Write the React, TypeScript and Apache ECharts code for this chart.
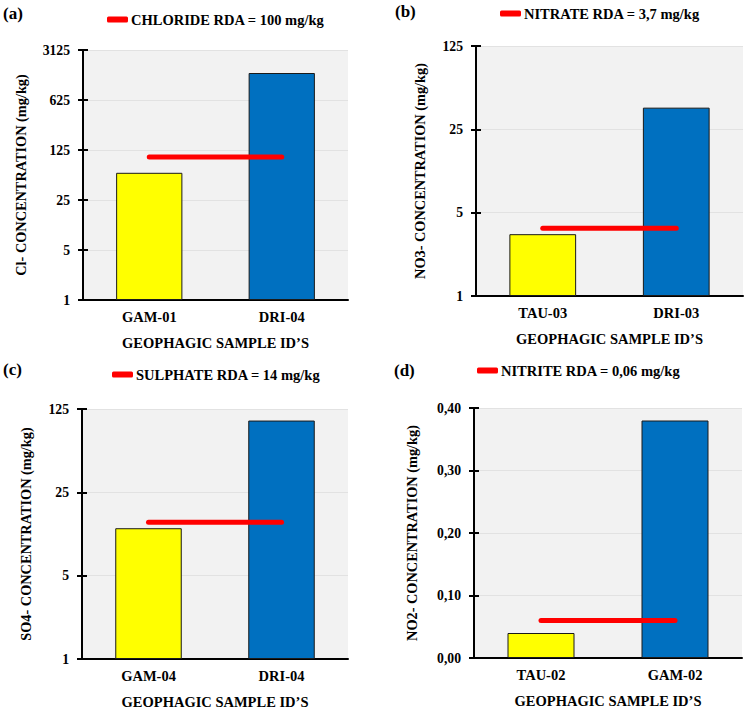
import React, { useEffect, useRef } from "react";
import * as echarts from "echarts";

const panelLetters = ["(a)", "(b)", "(c)", "(d)"];
const categoriesA = ["GAM-01", "DRI-04"];
const categoriesB = ["TAU-03", "DRI-03"];
const categoriesC = ["GAM-04", "DRI-04"];
const categoriesD = ["TAU-02", "GAM-02"];
const valuesA = [60, 1490];
const valuesB = [3.3, 38];
const valuesC = [12.5, 100];
const valuesD = [0.04, 0.38];
const rdaA = 100;
const rdaB = 3.7;
const rdaC = 14;
const rdaD = 0.06;
const legendNames = [
  "CHLORIDE RDA = 100 mg/kg",
  "NITRATE RDA = 3,7 mg/kg",
  "SULPHATE RDA = 14 mg/kg",
  "NITRITE RDA = 0,06 mg/kg",
];
const yNames = [
  "Cl- CONCENTRATION (mg/kg)",
  "NO3- CONCENTRATION (mg/kg)",
  "SO4- CONCENTRATION (mg/kg)",
  "NO2- CONCENTRATION (mg/kg)",
];
const xName = "GEOPHAGIC SAMPLE ID\u2019S";
const barColors = ["#ffff00", "#0070c0"];
const logMaxA = 3125;
const logMaxBC = 125;
const linMaxD = 0.4;
const linStepD = 0.1;

const FONT = "'Liberation Serif', 'Times New Roman', serif";

export default function App() {
  const ref = useRef<HTMLDivElement>(null);
  useEffect(() => {
    if (!ref.current) return;
    const chart = echarts.init(ref.current, null, { renderer: "svg" });

    const grids = [
      { left: 83, top: 50, width: 265, height: 250 },
      { left: 476, top: 46, width: 267, height: 250 },
      { left: 82, top: 409, width: 266, height: 250 },
      { left: 474, top: 408, width: 268, height: 250 },
    ];
    const cats = [categoriesA, categoriesB, categoriesC, categoriesD];
    const vals = [valuesA, valuesB, valuesC, valuesD];
    const rdas = [rdaA, rdaB, rdaC, rdaD];
    const yNameGaps = [55, 49, 49, 55];
    const legendPos = [
      { left: 107, top: 12 },
      { left: 500, top: 6 },
      { left: 112, top: 367 },
      { left: 477, top: 363 },
    ];
    const letterPos = [
      { x: 3, y: 14 },
      { x: 395, y: 12 },
      { x: 3, y: 370 },
      { x: 394, y: 371 },
    ];

    const textStyleBase = { fontFamily: FONT, fontWeight: "bold" as const, color: "#000" };

    const xAxes: any[] = [];
    const yAxes: any[] = [];
    const series: any[] = [];
    const legends: any[] = [];

    for (let i = 0; i < 4; i++) {
      xAxes.push({
        type: "category",
        gridIndex: i,
        data: cats[i],
        boundaryGap: true,
        name: xName,
        nameLocation: "middle",
        nameGap: 35,
        nameTextStyle: { ...textStyleBase, fontSize: 14.5 },
        axisLine: { show: true, lineStyle: { color: "#000", width: 2 } },
        axisTick: { show: false },
        axisLabel: { ...textStyleBase, fontSize: 14.5, margin: 9 },
      });
      const isLog = i < 3;
      const yBase: any = isLog
        ? { type: "log", logBase: 5, min: 1, max: i === 0 ? logMaxA : logMaxBC, interval: 1 }
        : { type: "value", min: 0, max: linMaxD, interval: linStepD };
      yAxes.push({
        ...yBase,
        gridIndex: i,
        position: "left",
        name: yNames[i],
        nameLocation: "middle",
        nameGap: yNameGaps[i],
        nameTextStyle: { ...textStyleBase, fontSize: 14.3 },
        axisLine: { show: true, lineStyle: { color: "#000", width: 2 } },
        axisTick: { show: true, inside: false, length: 5, lineStyle: { color: "#000", width: 2 } },
        axisLabel: {
          ...textStyleBase,
          fontSize: 13.7,
          margin: 13,
          formatter: (v: number) =>
            isLog ? String(Math.round(v)) : v.toFixed(2).replace(".", ","),
        },
        splitLine: { show: true, lineStyle: { color: "#e2e2e2", width: 1 } },
      });
      // overlay axis for inside half of crossing ticks
      yAxes.push({
        ...yBase,
        gridIndex: i,
        position: "left",
        offset: 0,
        axisLine: { show: false },
        axisTick: { show: true, inside: true, length: 5, lineStyle: { color: "#000", width: 2 } },
        axisLabel: { show: false },
        splitLine: { show: false },
      });
      const yIdx = i * 2;
      series.push({
        type: "bar",
        xAxisIndex: i,
        yAxisIndex: yIdx,
        barWidth: "50%",
        data: vals[i].map((v, j) => ({
          value: v,
          itemStyle: { color: barColors[j], borderColor: "#1a1a1a", borderWidth: 1 },
        })),
        z: 2,
      });
      series.push({
        type: "line",
        name: legendNames[i],
        xAxisIndex: i,
        yAxisIndex: yIdx,
        data: cats[i].map(() => rdas[i]),
        symbol: "none",
        lineStyle: { color: "#ff0000", width: 5, cap: "round" },
        itemStyle: { color: "#ff0000" },
        z: 3,
      });
      legends.push({
        data: [legendNames[i]],
        left: legendPos[i].left,
        top: legendPos[i].top,
        padding: 0,
        icon: "roundRect",
        itemWidth: 21,
        itemHeight: 6,
        itemGap: 4,
        selectedMode: false,
        textStyle: { ...textStyleBase, fontSize: 14.5, padding: [0, 0, 0, -2] },
      });
    }

    chart.setOption({
      animation: false,
      backgroundColor: "#fff",
      textStyle: { fontFamily: FONT },
      grid: grids.map((g) => ({
        ...g,
        show: true,
        backgroundColor: "#f2f2f2",
        borderWidth: 0,
        containLabel: false,
      })),
      xAxis: xAxes,
      yAxis: yAxes,
      legend: legends,
      series,
      graphic: panelLetters.map((t, i) => ({
        type: "text",
        left: letterPos[i].x,
        top: letterPos[i].y - 9,
        style: { text: t, fontFamily: FONT, fontWeight: "bold", fontSize: 17, fill: "#000" },
      })),
    });
    return () => chart.dispose();
  }, []);
  return (
    <div
      ref={ref}
      style={{ position: "fixed", left: 0, top: 0, width: 745, height: 710, background: "#fff" }}
    />
  );
}
